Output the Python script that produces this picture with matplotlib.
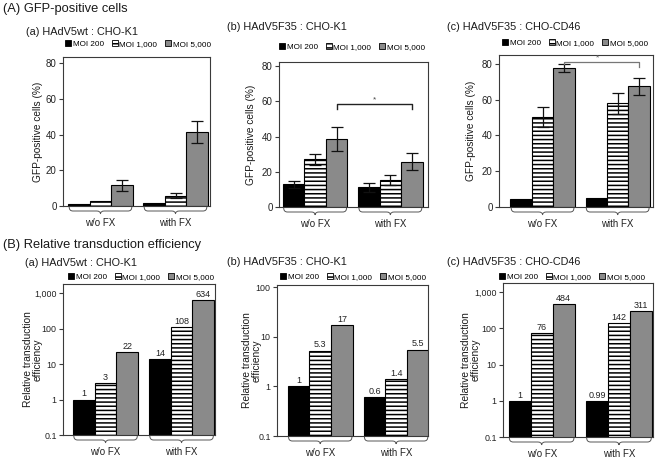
import matplotlib
matplotlib.use("Agg")
import matplotlib.pyplot as plt
import numpy as np
from matplotlib.path import Path
from matplotlib.patches import PathPatch, Patch
from matplotlib import transforms

plt.rcParams['font.family'] = ['Liberation Sans', 'DejaVu Sans']
plt.rcParams['hatch.linewidth'] = 1.1

# ---------------- data ----------------
groups = ['w/o FX', 'with FX']
series_labels = ['MOI 200', 'MOI 1,000', 'MOI 5,000']

# (A) GFP-positive cells (%)
gfp_a_moi200 = [1.2, 1.5];   gfp_a_moi200_err = [0.0, 0.0]
gfp_a_moi1000 = [2.8, 5.8];  gfp_a_moi1000_err = [0.0, 1.4]
gfp_a_moi5000 = [11.6, 41.4]; gfp_a_moi5000_err = [3.1, 6.3]

gfp_b_moi200 = [13.0, 11.1]; gfp_b_moi200_err = [2.0, 2.6]
gfp_b_moi1000 = [27.1, 15.4]; gfp_b_moi1000_err = [3.0, 2.8]
gfp_b_moi5000 = [38.6, 25.8]; gfp_b_moi5000_err = [6.6, 4.6]

gfp_c_moi200 = [4.4, 4.8];   gfp_c_moi200_err = [0.0, 0.0]
gfp_c_moi1000 = [50.4, 58.0]; gfp_c_moi1000_err = [5.8, 5.8]
gfp_c_moi5000 = [77.8, 67.4]; gfp_c_moi5000_err = [2.3, 4.8]

# (B) Relative transduction efficiency
rel_a_moi200 = [1, 14];   rel_a_moi1000 = [3, 108];  rel_a_moi5000 = [22, 634]
rel_b_moi200 = [1, 0.6];  rel_b_moi1000 = [5.3, 1.4]; rel_b_moi5000 = [17, 5.5]
rel_c_moi200 = [1, 0.99]; rel_c_moi1000 = [76, 142];  rel_c_moi5000 = [484, 311]

gfp_ticks = [0, 20, 40, 60, 80]
rel_ticks = [0.1, 1, 10, 100, 1000]
rel_ticklabels = ['0.1', '1', '10', '100', '1,000']

# ---------------- styling ----------------
W, H = 661, 461
fig = plt.figure(figsize=(W / 100, H / 100), dpi=100)
SP = '#3a3a3a'
GRAY = '#8a8a8a'
styles = [dict(facecolor='black', hatch=None),
          dict(facecolor='white', hatch='----'),
          dict(facecolor=GRAY, hatch=None)]
BW = 0.285


def add_ax(l, r, t, b):
    return fig.add_axes([l / W, 1 - b / H, (r - l) / W, (b - t) / H])


def style_ax(ax, tsize):
    for s in ax.spines.values():
        s.set_color(SP)
        s.set_linewidth(0.8)
    ax.tick_params(axis='y', direction='out', length=3, width=0.8,
                   color=SP, labelsize=tsize, pad=1.5, labelcolor='#222222')
    ax.tick_params(axis='x', bottom=False, labelbottom=False)


def draw_bars(ax, series, errs=None):
    x = np.arange(len(groups))
    for i, vals in enumerate(series):
        st = styles[i]
        ax.bar(x + (i - 1) * BW, vals, BW, color=st['facecolor'],
               hatch=st['hatch'], edgecolor='black', linewidth=0.8, zorder=2)
        if errs is not None:
            for xi, v, e in zip(x, vals, errs[i]):
                if e > 0:
                    ax.errorbar(xi + (i - 1) * BW, v, yerr=e, fmt='none',
                                ecolor='#111111', elinewidth=0.9,
                                capsize=4, capthick=0.9, zorder=3)


def draw_braces(ax, h_px, ypos_label):
    tr = transforms.blended_transform_factory(ax.transData, ax.transAxes)
    x = np.arange(len(groups))
    f = lambda p: -p / h_px
    dx = 0.05
    for xi, g in zip(x, groups):
        x0 = xi - 1.5 * BW + 0.01
        x1 = xi + 1.5 * BW - 0.01
        xc = xi
        verts = [(x0, f(1)), (x0, f(5)), (x0 + dx, f(5)),
                 (xc - dx, f(5)), (xc, f(5)), (xc, f(8)),
                 (xc, f(5)), (xc + dx, f(5)),
                 (x1 - dx, f(5)), (x1, f(5)), (x1, f(1))]
        codes = [Path.MOVETO, Path.CURVE3, Path.CURVE3,
                 Path.LINETO, Path.CURVE3, Path.CURVE3,
                 Path.CURVE3, Path.CURVE3,
                 Path.LINETO, Path.CURVE3, Path.CURVE3]
        ax.add_patch(PathPatch(Path(verts, codes), transform=tr, fill=False,
                               edgecolor='#555555', linewidth=0.7, clip_on=False))
        ax.text(xc, f(ypos_label), g, transform=tr, ha='center', va='center',
                fontsize=7, color='#222222')


def add_legend(ax, x_px, y_px):
    handles = [Patch(facecolor=st['facecolor'], hatch=st['hatch'],
                     edgecolor='black', linewidth=0.6) for st in styles]
    ax.legend(handles, series_labels, loc='center left',
              bbox_to_anchor=(x_px / W, 1 - y_px / H), bbox_transform=fig.transFigure,
              ncol=3, frameon=False, fontsize=5.9, handlelength=0.75,
              handleheight=0.75, handletextpad=0.2, columnspacing=0.95,
              borderpad=0, borderaxespad=0)


def ftext(x_px, y_px, s, size, **kw):
    fig.text(x_px / W, 1 - y_px / H, s, fontsize=size, color='#1a1a1a', **kw)


# ---------------- (A) panels ----------------
A_boxes = [(63, 210, 57, 206, (-0.5, 1.46), 83.4),
           (279, 428, 62, 207, (-0.48, 1.5), 82.3),
           (499, 653, 55, 207, (-0.58, 1.47), 85.0)]
A_series = [
    ([gfp_a_moi200, gfp_a_moi1000, gfp_a_moi5000],
     [gfp_a_moi200_err, gfp_a_moi1000_err, gfp_a_moi5000_err]),
    ([gfp_b_moi200, gfp_b_moi1000, gfp_b_moi5000],
     [gfp_b_moi200_err, gfp_b_moi1000_err, gfp_b_moi5000_err]),
    ([gfp_c_moi200, gfp_c_moi1000, gfp_c_moi5000],
     [gfp_c_moi200_err, gfp_c_moi1000_err, gfp_c_moi5000_err]),
]
A_legend = [(65, 44), (279, 47), (502, 43)]
A_ylabel_x = [38, 251, 471]
axesA = []
for (l, r, t, b, xl, ytop), (ser, er), (lx, ly), ylx in zip(A_boxes, A_series, A_legend, A_ylabel_x):
    ax = add_ax(l, r, t, b)
    draw_bars(ax, ser, er)
    ax.set_xlim(*xl)
    ax.set_ylim(0, ytop)
    ax.set_yticks(gfp_ticks)
    style_ax(ax, 7)
    draw_braces(ax, b - t, 17)
    add_legend(ax, lx, ly)
    ftext(ylx, (t + b) / 2, 'GFP-positive cells (%)', 7.3, rotation=90,
          ha='center', va='center')
    axesA.append(ax)

# significance brackets
axb = axesA[1]
xs = [0 + BW, 1 + BW]
axb.plot([xs[0], xs[0], xs[1], xs[1]], [55.6, 58.4, 58.4, 55.6],
         color='#222222', linewidth=1.0, zorder=4)
axb.text(np.mean(xs), 58.6, '*', ha='center', va='bottom', fontsize=6, color='#444444')
axc = axesA[2]
xs = [0 + BW, 1 + BW]
axc.plot([xs[0], xs[0], xs[1], xs[1]], [80.1, 81.3, 81.3, 78.5],
         color='#777777', linewidth=0.9, zorder=4, clip_on=False)
axc.text(np.mean(xs) - 0.05, 81.4, '*', ha='center', va='bottom', fontsize=6, color='#666666')

# ---------------- (B) panels ----------------
B_boxes = [(63, 215, 284, 435, (-0.56, 1.44), (0.1, 1800)),
           (277, 428, 285, 436, (-0.57, 1.42), (0.1, 111)),
           (503, 653, 283, 437, (-0.5, 1.44), (0.1, 1800))]
B_series = [[rel_a_moi200, rel_a_moi1000, rel_a_moi5000],
            [rel_b_moi200, rel_b_moi1000, rel_b_moi5000],
            [rel_c_moi200, rel_c_moi1000, rel_c_moi5000]]
B_legend = [(68, 277), (280, 277), (499, 277)]
B_ylabel_x = [33, 252, 471]
for (l, r, t, b, xl, yl), ser, (lx, ly), ylx in zip(B_boxes, B_series, B_legend, B_ylabel_x):
    ax = add_ax(l, r, t, b)
    ax.set_yscale('log')
    draw_bars(ax, ser)
    ax.set_xlim(*xl)
    ax.set_ylim(*yl)
    ticks = [tk for tk in rel_ticks if tk <= yl[1]]
    ax.set_yticks(ticks)
    ax.set_yticklabels(rel_ticklabels[:len(ticks)])
    ax.yaxis.set_minor_locator(matplotlib.ticker.NullLocator())
    style_ax(ax, 6.4)
    x = np.arange(len(groups))
    for i, vals in enumerate(ser):
        for xi, v in zip(x, vals):
            ax.text(xi + (i - 1) * BW, v * 1.07, f"{v:g}", ha='center', va='bottom',
                    fontsize=6.5, color='#222222')
    draw_braces(ax, b - t, 17)
    add_legend(ax, lx, ly)
    ftext(ylx, (t + b) / 2, 'Relative transduction\nefficiency', 7.4, rotation=90,
          ha='center', va='center', linespacing=1.0)

# ---------------- titles ----------------
ftext(3, 9, '(A) GFP-positive cells', 9.3, ha='left', va='center')
ftext(26, 32, '(a) HAdV5wt : CHO-K1', 7.8, ha='left', va='center')
ftext(227, 27, '(b) HAdV5F35 : CHO-K1', 7.8, ha='left', va='center')
ftext(447, 27, '(c) HAdV5F35 : CHO-CD46', 7.8, ha='left', va='center')
ftext(3, 245, '(B) Relative transduction efficiency', 9.3, ha='left', va='center')
ftext(25, 263, '(a) HAdV5wt : CHO-K1', 7.8, ha='left', va='center')
ftext(227, 262, '(b) HAdV5F35 : CHO-K1', 7.8, ha='left', va='center')
ftext(447, 262, '(c) HAdV5F35 : CHO-CD46', 7.8, ha='left', va='center')

fig.savefig('out.png', dpi=100)
